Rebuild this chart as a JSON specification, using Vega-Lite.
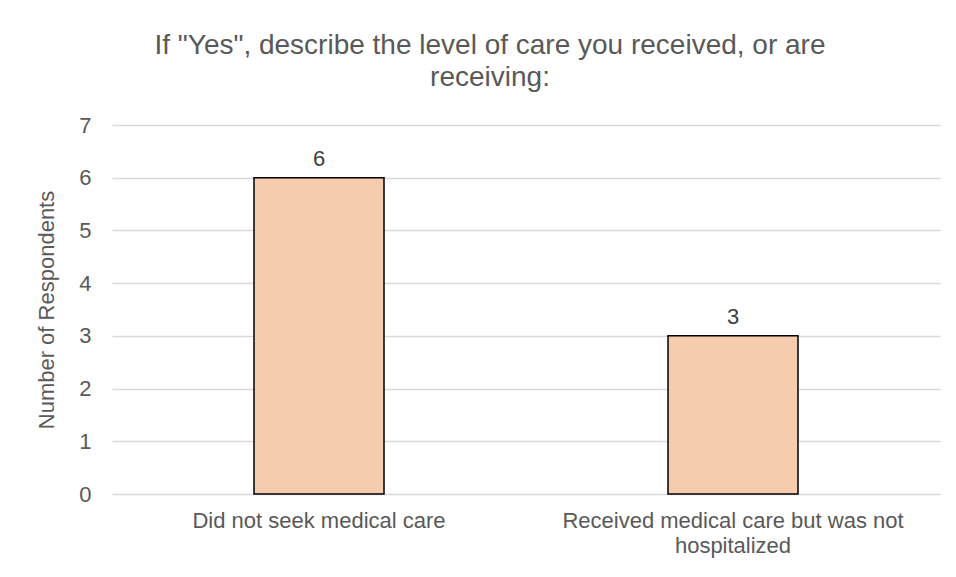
{
  "$schema": "https://vega.github.io/schema/vega-lite/v6.json",
  "autosize": "none",
  "width": 828,
  "height": 369,
  "padding": {"left": 112, "top": 125, "right": 16, "bottom": 83},
  "background": "white",
  "title": {
    "text": ["If \"Yes\", describe the level of care you received, or are", "receiving:"],
    "font": "Liberation Sans",
    "fontSize": 28,
    "fontWeight": "normal",
    "color": "#595959",
    "lineHeight": 32,
    "anchor": "middle",
    "baseline": "alphabetic",
    "dx": -36,
    "offset": 0
  },
  "data": {
    "values": [
      {"care": "Did not seek medical care", "count": 6},
      {"care": "Received medical care but was not hospitalized", "count": 3}
    ]
  },
  "encoding": {
    "x": {
      "field": "care",
      "type": "nominal",
      "sort": null,
      "scale": {"paddingInner": 0, "paddingOuter": 0},
      "axis": {
        "title": null,
        "labelAngle": 0,
        "labelFont": "Liberation Sans",
        "labelFontSize": 22,
        "labelColor": "#595959",
        "labelPadding": 16,
        "labelLineHeight": 25,
        "labelLimit": 500,
        "ticks": false,
        "domain": false,
        "labelExpr": "datum.value == 'Received medical care but was not hospitalized' ? ['Received medical care but was not', 'hospitalized'] : datum.value"
      }
    },
    "y": {
      "field": "count",
      "type": "quantitative",
      "scale": {"domain": [0, 7]},
      "axis": {
        "title": "Number of Respondents",
        "titleFont": "Liberation Sans",
        "titleFontSize": 22,
        "titleFontWeight": "normal",
        "titleColor": "#595959",
        "titlePadding": 20,
        "values": [0, 1, 2, 3, 4, 5, 6, 7],
        "labelFont": "Liberation Sans",
        "labelFontSize": 22,
        "labelColor": "#595959",
        "labelPadding": 21,
        "ticks": false,
        "domain": false,
        "grid": true,
        "gridColor": "#d9d9d9",
        "gridWidth": 1.5
      }
    }
  },
  "layer": [
    {
      "mark": {"type": "bar", "size": 130, "fill": "#F7CBAD", "stroke": "#000000", "strokeWidth": 1.5}
    },
    {
      "mark": {"type": "text", "baseline": "alphabetic", "dy": -12, "font": "Liberation Sans", "fontSize": 22, "color": "#404040"},
      "encoding": {"text": {"field": "count", "type": "quantitative"}}
    }
  ],
  "config": {"view": {"stroke": null}}
}
